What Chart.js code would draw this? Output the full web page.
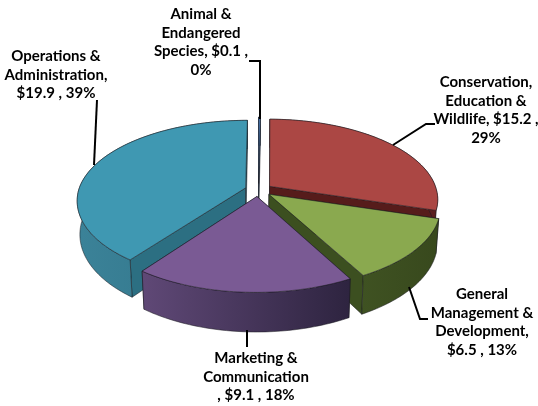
<!DOCTYPE html>
<html>
<head>
<meta charset="utf-8">
<style>html,body{margin:0;padding:0;background:#fff}canvas{display:block}</style>
<script src="https://cdn.jsdelivr.net/npm/chart.js@4"></script>
</head>
<body>
<canvas id="budget" width="538" height="406"></canvas>
<script>
// Budget split by program area, in millions of dollars.
const categories = ['Animal & Endangered Species', 'Conservation, Education & Wildlife', 'General Management & Development', 'Marketing & Communication', 'Operations & Administration'];
const amounts = [0.1, 15.2, 6.5, 9.1, 19.9];
const topColors = ['#4F81BD', '#AB4744', '#8AA94F', '#7A5A94', '#3F98B2'];
const rimColors = [['#3A618F', '#2E4E73'], ['#6E2C2A', '#5A1F1E'], ['#3F5222', '#38491D'], ['#5F4876', '#2E2440'], ['#3B8298', '#2F7286']];
const faceColors = ['#2E4E73', '#561C1B', '#3C4F20', '#3F3054', '#2C6F82'];
const labelLines = [
  ['Animal &', 'Endangered', 'Species, $0.1 ,', '0%'],
  ['Conservation,', 'Education &', 'Wildlife, $15.2 ,', '29%'],
  ['General', 'Management &', 'Development,', '$6.5 , 13%'],
  ['Marketing &', 'Communication', ', $9.1 , 18%'],
  ['Operations &', 'Administration,', '$19.9 , 39%']
];

// Text anchors and leader polylines for each label, in the same order as the slices.
const labelCentres = [[201, 14], [486, 82], [482, 294], [256, 358], [56, 56]];
const labelStep = 18.8;
const leaders = [
  [[249, 61], [260, 61], [260, 119]],
  [[435, 124], [426, 124], [393, 145]],
  [[428, 319], [420, 319], [409, 287]],
  [[247, 330], [247, 347]],
  [[97, 100], [94, 165]]
];

// Tilted-disc view: perspective grows towards the viewer, with a slight twist at the front.
const view = { cx: 258.5, cy: 190, rx: 167, ry: 78.6, persp: 0.155, depth: 33, explode: 0.082, shear: 9, roll: 6 };

function project(x, y, z) {
  const s = 1 / (1 - view.persp * y);
  const front = Math.max(y, 0);
  return [
    view.cx + x * view.rx * s * (1 - 0.015 * z) + view.shear * front * front,
    view.cy + y * view.ry * s + z * view.depth * s - view.roll * x * front
  ];
}

function trace(ctx, pts) {
  ctx.beginPath();
  pts.forEach((p, i) => i ? ctx.lineTo(p[0], p[1]) : ctx.moveTo(p[0], p[1]));
  ctx.closePath();
}

function paint(ctx, pts, fill) {
  trace(ctx, pts);
  ctx.fillStyle = fill;
  ctx.fill();
  ctx.lineWidth = 0.8;
  ctx.strokeStyle = 'rgba(25,25,30,0.65)';
  ctx.stroke();
}

// Replaces the flat pie drawing with extruded slices, using the angles Chart.js computed.
const extrudedPie = {
  id: 'extrudedPie',
  beforeDatasetDraw(chart, args) {
    const ctx = chart.ctx;
    const arcs = chart.getDatasetMeta(args.index).data;
    const order = [0, 1, 4, 2, 3];
    order.forEach(i => {
      const { startAngle, endAngle } = arcs[i].getProps(['startAngle', 'endAngle'], true);
      const mid = (startAngle + endAngle) / 2;
      const ox = Math.cos(mid) * view.explode;
      const oy = Math.sin(mid) * view.explode;
      const steps = Math.max(2, Math.ceil((endAngle - startAngle) / 0.02));
      const rim = [];
      for (let n = 0; n <= steps; n++) {
        const a = startAngle + (endAngle - startAngle) * n / steps;
        rim.push([ox + Math.cos(a), oy + Math.sin(a)]);
      }
      const topRim = rim.map(p => project(p[0], p[1], 0));
      const lowRim = rim.map(p => project(p[0], p[1], 1));
      const apexTop = project(ox, oy, 0);
      const apexLow = project(ox, oy, 1);

      // Cut faces
      paint(ctx, [apexTop, topRim[0], lowRim[0], apexLow], faceColors[i]);
      paint(ctx, [apexTop, topRim[steps], lowRim[steps], apexLow], faceColors[i]);

      // Curved wall, shaded from left to right.
      const xs = lowRim.map(p => p[0]);
      const grad = ctx.createLinearGradient(Math.min(...xs), 0, Math.max(...xs), 0);
      grad.addColorStop(0, rimColors[i][0]);
      grad.addColorStop(1, rimColors[i][1]);
      paint(ctx, topRim.concat(lowRim.slice().reverse()), grad);

      // Top surface
      paint(ctx, [apexTop].concat(topRim), topColors[i]);
    });
    return false;
  },
  afterDatasetsDraw(chart) {
    const ctx = chart.ctx;
    ctx.save();
    ctx.strokeStyle = '#000';
    ctx.lineWidth = 2;
    ctx.lineJoin = 'miter';
    leaders.forEach(line => {
      ctx.beginPath();
      line.forEach((p, i) => i ? ctx.lineTo(p[0], p[1]) : ctx.moveTo(p[0], p[1]));
      ctx.stroke();
    });
    ctx.fillStyle = '#000';
    ctx.font = 'bold 15px Lato';
    ctx.textAlign = 'center';
    ctx.textBaseline = 'middle';
    labelLines.forEach((lines, i) => {
      lines.forEach((text, n) => {
        ctx.fillText(text, labelCentres[i][0], labelCentres[i][1] + n * labelStep);
      });
    });
    ctx.restore();
  }
};

new Chart(document.getElementById('budget'), {
  type: 'pie',
  data: {
    labels: categories,
    datasets: [{ data: amounts, backgroundColor: topColors }]
  },
  options: {
    responsive: false,
    animation: false,
    plugins: { legend: { display: false }, tooltip: { enabled: false } }
  },
  plugins: [extrudedPie]
});
</script>
</body>
</html>
